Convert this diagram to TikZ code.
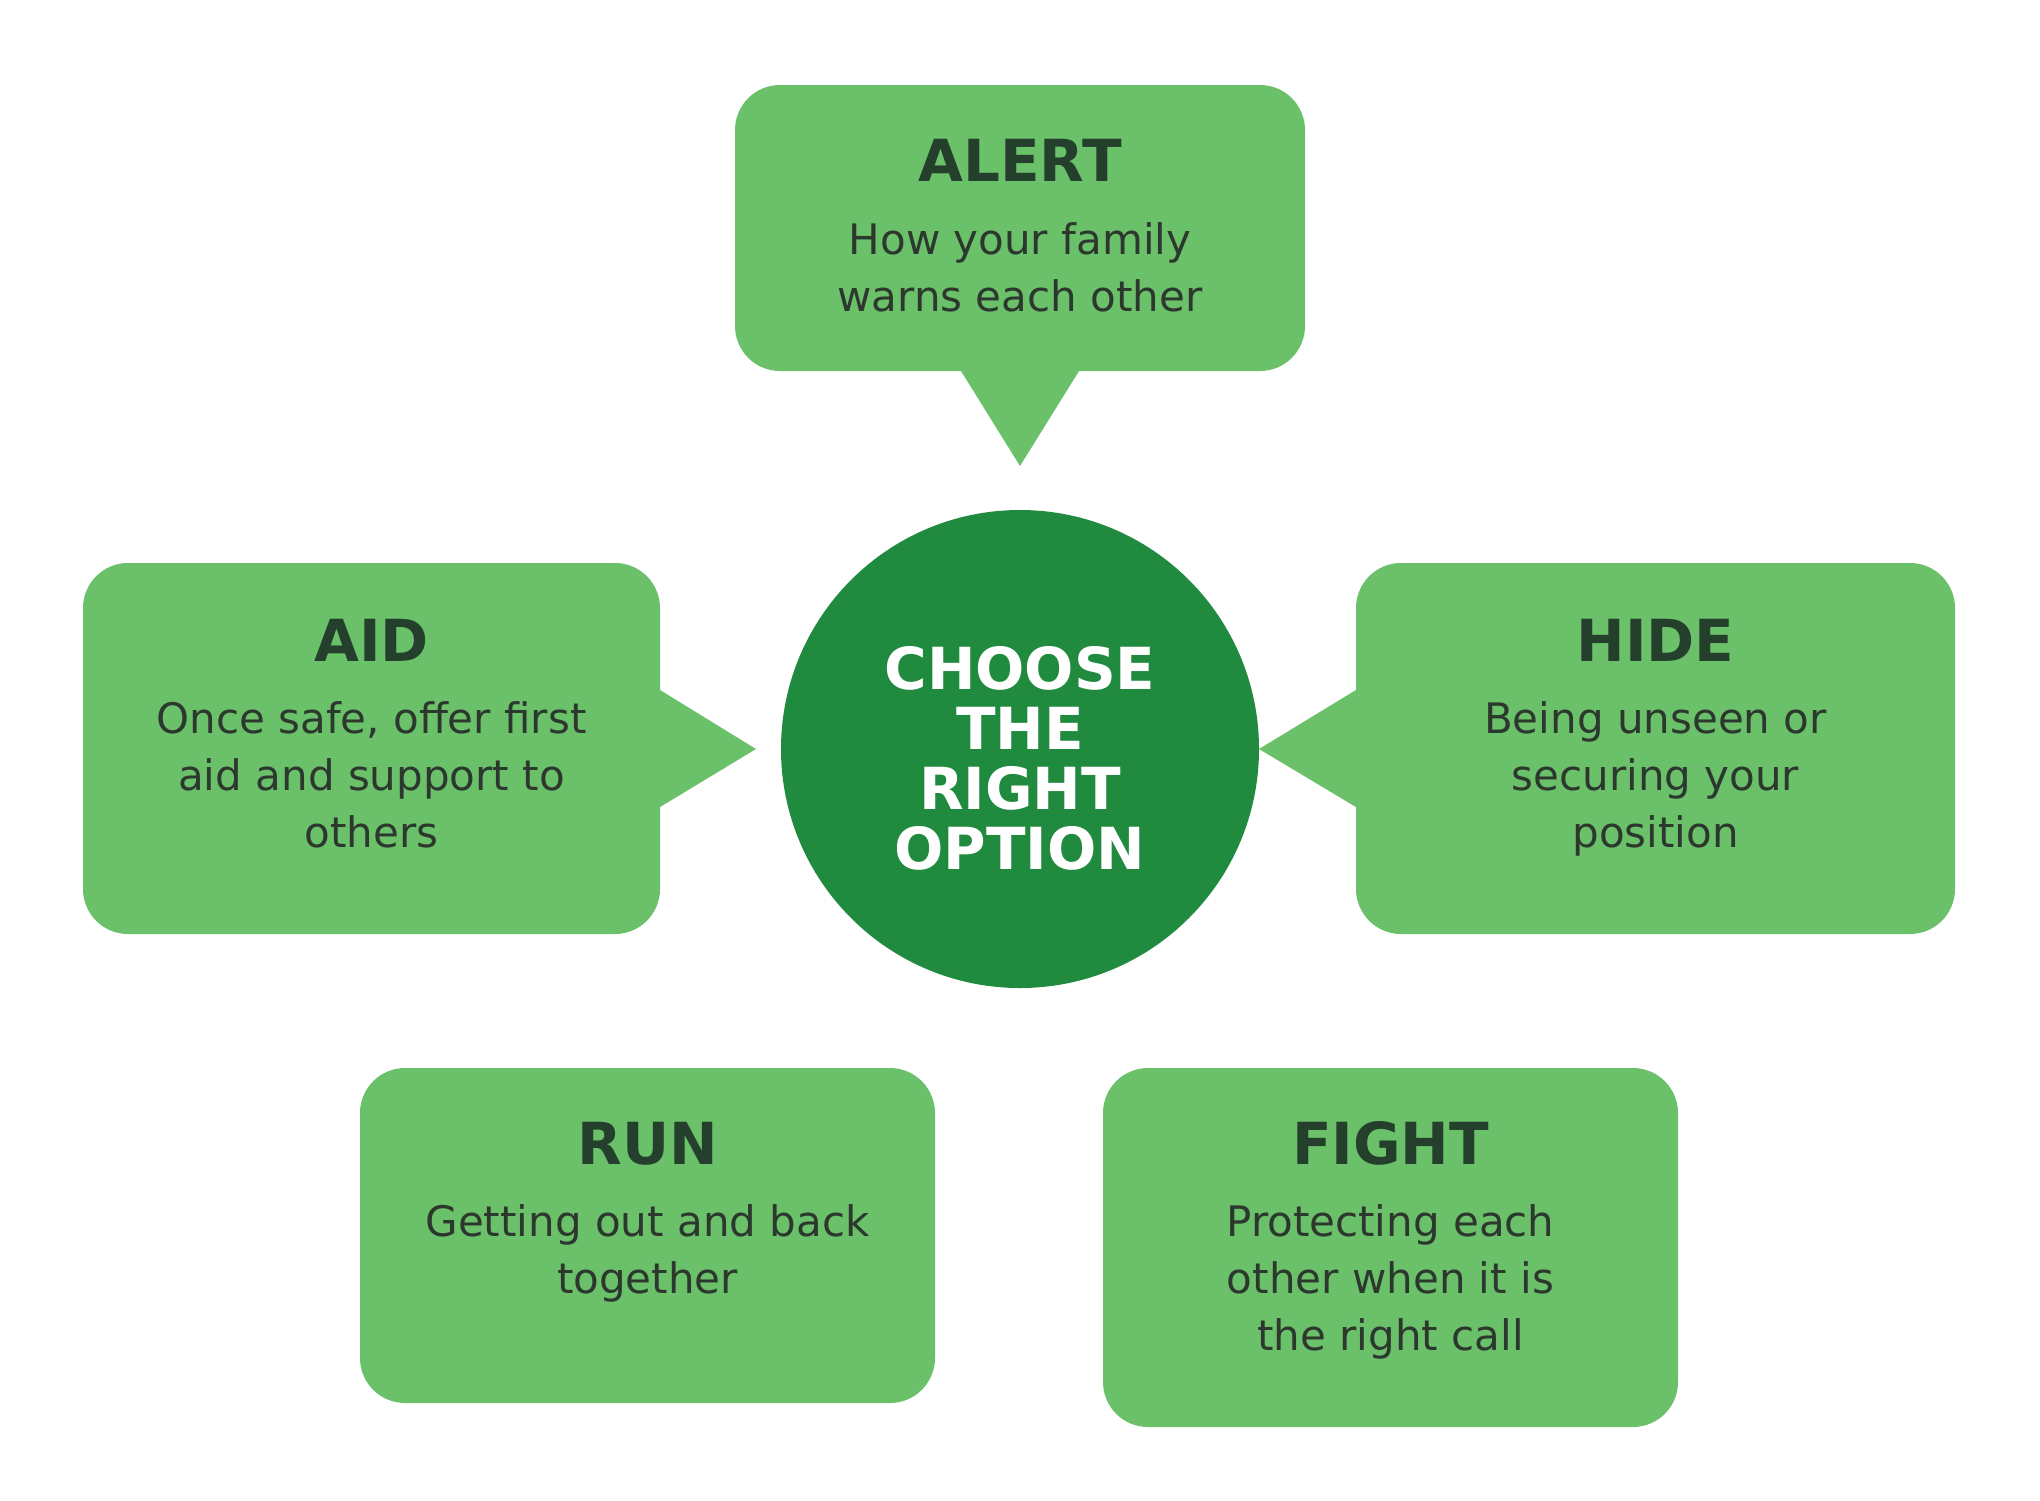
\documentclass[tikz,border=0pt]{standalone}
\usepackage{fontspec}
\setmainfont{DejaVu Sans}
\definecolor{boxgreen}{HTML}{6BC06A}
\definecolor{circgreen}{HTML}{208A3E}
\definecolor{titlecol}{HTML}{24402C}
\definecolor{bodycol}{HTML}{2C382E}
\tikzset{
  card/.style={fill=boxgreen, draw=none, rounded corners=22.5pt, inner sep=0pt, shape=rectangle},
  tail/.style={fill=boxgreen, draw=none},
  ttl/.style={anchor=base, text=titlecol, font={\fontsize{29}{30}\selectfont\bfseries}, inner sep=0pt},
  body/.style={anchor=base, text=bodycol, align=center, font={\fontsize{21}{28.5}\selectfont}, inner sep=0pt},
  hub/.style={circle, fill=circgreen, draw=none, minimum size=239pt, inner sep=0pt},
  hubtext/.style={anchor=base, text=white, align=center, font={\fontsize{29}{30}\selectfont\bfseries}, inner sep=0pt}
}
\begin{document}
\begin{tikzpicture}[x=0.5pt, y=-0.5pt]
\useasboundingbox (0,0) rectangle (2040,1500);
% boxes
\node[card, minimum width=285pt, minimum height=143pt] (alert) at (1020,228) {};
\node[card, minimum width=288.5pt, minimum height=185.5pt] (aid) at (371.5,748.5) {};
\node[card, minimum width=299.5pt, minimum height=185.5pt] (hide) at (1655.5,748.5) {};
\node[card, minimum width=287.5pt, minimum height=167.5pt] (run) at (647.5,1235.5) {};
\node[card, minimum width=287.5pt, minimum height=179.5pt] (fight) at (1390.5,1247.5) {};
% hub
\node[hub] (center) at (1020,749) {};
% tails
\coordinate (alerttip) at (1020,466);
\coordinate (aidtip) at (756,749);
\coordinate (hidetip) at (1259,749);
\fill[tail] ([xshift=-30pt,yshift=1pt]alert.south) -- (alerttip) -- ([xshift=30pt,yshift=1pt]alert.south) -- cycle;
\fill[tail] ([xshift=-1pt,yshift=29.75pt]aid.east) -- (aidtip) -- ([xshift=-1pt,yshift=-29.75pt]aid.east) -- cycle;
\fill[tail] ([xshift=1pt,yshift=29.75pt]hide.west) -- (hidetip) -- ([xshift=1pt,yshift=-29.75pt]hide.west) -- cycle;
% texts (base anchor = baseline of last line)
\node[ttl] (alertT) at (1020,181) {ALERT};
\node[body] (alertB) at (1020,311) {How your family\\warns each other};
\node[ttl] (aidT) at (371.5,661) {AID};
\node[body] (aidB) at (371.5,847) {Once safe, offer first\\aid and support to\\others};
\node[ttl] (hideT) at (1655.5,661) {HIDE};
\node[body] (hideB) at (1655.5,847) {Being unseen or\\securing your\\position};
\node[ttl] (runT) at (647.5,1164) {RUN};
\node[body] (runB) at (647.5,1293) {Getting out and back\\together};
\node[ttl] (fightT) at (1390.5,1164) {FIGHT};
\node[body] (fightB) at (1390.5,1350) {Protecting each\\other when it is\\the right call};
\node[hubtext] (hubT) at (1020,869) {CHOOSE\\THE\\RIGHT\\OPTION};
\end{tikzpicture}
\end{document}
